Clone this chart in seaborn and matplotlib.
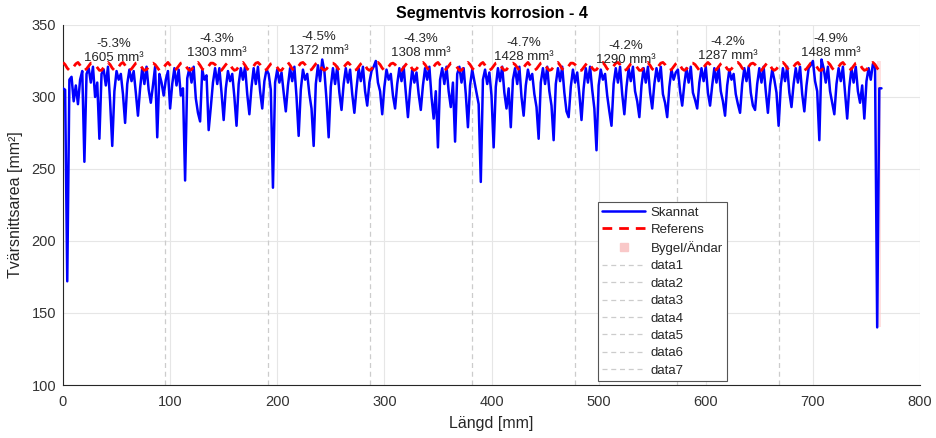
import numpy as np
import matplotlib
matplotlib.use('Agg')
import matplotlib.pyplot as plt
from matplotlib.lines import Line2D
import seaborn as sns

# Skannad tvärsnittsarea [mm²], en punkt varannan mm (0..764 mm)
skannat = [
    306, 305, 172, 312, 314, 297, 308, 295, 312, 318, 255, 316,
    320, 310, 321, 300, 310, 271, 316, 319, 308, 321, 297, 266,
    304, 318, 312, 316, 302, 282, 309, 319, 311, 318, 303, 287,
    306, 320, 309, 321, 305, 296, 308, 321, 272, 316, 310, 301,
    312, 318, 292, 309, 320, 308, 319, 301, 306, 242, 313, 320,
    310, 321, 299, 289, 283, 319, 312, 315, 277, 293, 310, 320,
    309, 320, 303, 284, 306, 318, 311, 316, 300, 280, 309, 320,
    312, 321, 302, 288, 307, 320, 309, 321, 304, 292, 311, 319,
    316, 305, 237, 310, 319, 310, 317, 303, 290, 308, 320, 311,
    321, 300, 273, 305, 319, 312, 316, 302, 292, 266, 309, 322,
    311, 326, 318, 298, 272, 307, 320, 309, 321, 303, 291, 309,
    320, 310, 319, 302, 289, 306, 320, 311, 321, 304, 294, 310,
    318, 321, 325, 310, 304, 288, 307, 319, 312, 316, 301, 292,
    309, 320, 311, 321, 303, 286, 305, 319, 310, 317, 302, 291,
    308, 320, 312, 321, 300, 285, 304, 265, 312, 320, 309, 321,
    304, 293, 310, 269, 316, 321, 310, 320, 302, 279, 308, 319,
    311, 303, 295, 241, 312, 319, 309, 317, 301, 265, 307, 320,
    311, 321, 303, 292, 306, 279, 312, 320, 309, 321, 300, 287,
    308, 319, 312, 316, 302, 293, 271, 310, 320, 309, 321, 304,
    294, 270, 309, 320, 311, 321, 303, 290, 286, 307, 319, 310,
    317, 302, 284, 306, 320, 310, 321, 305, 292, 263, 308, 319,
    312, 316, 301, 290, 280, 309, 320, 310, 321, 302, 288, 307,
    320, 311, 321, 304, 297, 286, 308, 320, 310, 321, 303, 292,
    309, 320, 311, 321, 302, 296, 286, 307, 319, 312, 317, 319,
    304, 294, 309, 320, 310, 321, 303, 298, 292, 310, 320, 311,
    321, 303, 294, 308, 320, 310, 321, 304, 297, 287, 308, 319,
    312, 316, 302, 295, 289, 309, 320, 311, 321, 303, 294, 291,
    309, 320, 310, 321, 304, 289, 308, 319, 312, 303, 280, 307,
    320, 311, 321, 303, 293, 309, 320, 310, 321, 302, 290, 308,
    320, 322, 325, 311, 304, 270, 326, 320, 310, 321, 304, 296,
    288, 309, 320, 311, 321, 303, 285, 307, 320, 310, 321, 304,
    296, 308, 285, 311, 320, 312, 323, 320, 140, 306, 306,
]

# Referensarea [mm²], varannan mm (0..762 mm)
referens = [
    324, 322.5, 320, 318.5, 319, 321, 323,
    324, 322, 319.5, 318.5, 319.5, 321.5, 323.5,
    323.5, 322.5, 320.5, 318.5, 318.5, 320.5, 322.5,
    324, 322.5, 320, 318.5, 319, 321, 323,
    324, 322, 319.5, 318.5, 319.5, 321.5, 323.5,
    324, 322.5, 320, 318.5, 319, 321, 323,
    323.5, 322.5, 320.5, 318.5, 318.5, 320.5, 322.5,
    324, 322, 319.5, 318.5, 319.5, 321.5, 323.5,
    324, 322.5, 320, 318.5, 319, 321, 323,
    324, 322, 319.5, 318.5, 319.5, 321.5, 323.5,
    323.5, 322.5, 320.5, 318.5, 318.5, 320.5, 322.5,
    324, 322.5, 320, 318.5, 319, 321, 323,
    324, 322, 319.5, 318.5, 319.5, 321.5, 323.5,
    324, 322.5, 320, 318.5, 319, 321, 323,
    323.5, 322.5, 320.5, 318.5, 318.5, 320.5, 322.5,
    324, 322, 319.5, 318.5, 319.5, 321.5, 323.5,
    324, 322.5, 320, 318.5, 319, 321, 323,
    324, 322, 319.5, 318.5, 319.5, 321.5, 323.5,
    323.5, 322.5, 320.5, 318.5, 318.5, 320.5, 322.5,
    324, 322.5, 320, 318.5, 319, 321, 323,
    324, 322, 319.5, 318.5, 319.5, 321.5, 323.5,
    324, 322.5, 320, 318.5, 319, 321, 323,
    323.5, 322.5, 320.5, 318.5, 318.5, 320.5, 322.5,
    324, 322, 319.5, 318.5, 319.5, 321.5, 323.5,
    324, 322.5, 320, 318.5, 319, 321, 323,
    324, 322, 319.5, 318.5, 319.5, 321.5, 323.5,
    323.5, 322.5, 320.5, 318.5, 318.5, 320.5, 322.5,
    324, 322.5, 320, 318.5, 319, 321, 323,
    324, 322, 319.5, 318.5, 319.5, 321.5, 323.5,
    324, 322.5, 320, 318.5, 319, 321, 323,
    323.5, 322.5, 320.5, 318.5, 318.5, 320.5, 322.5,
    324, 322, 319.5, 318.5, 319.5, 321.5, 323.5,
    324, 322.5, 320, 318.5, 319, 321, 323,
    324, 322, 319.5, 318.5, 319.5, 321.5, 323.5,
    323.5, 322.5, 320.5, 318.5, 318.5, 320.5, 322.5,
    324, 322.5, 320, 318.5, 319, 321, 323,
    324, 322, 319.5, 318.5, 319.5, 321.5, 323.5,
    324, 322.5, 320, 318.5, 319, 321, 323,
    323.5, 322.5, 320.5, 318.5, 318.5, 320.5, 322.5,
    324, 322, 319.5, 318.5, 319.5, 321.5, 323.5,
    324, 322.5, 320, 318.5, 319, 321, 323,
    324, 322, 319.5, 318.5, 319.5, 321.5, 323.5,
    323.5, 322.5, 320.5, 318.5, 318.5, 320.5, 322.5,
    324, 322.5, 320, 318.5, 319, 321, 323,
    324, 322, 319.5, 318.5, 319.5, 321.5, 323.5,
    324, 322.5, 320, 318.5, 319, 321, 323,
    323.5, 322.5, 320.5, 318.5, 318.5, 320.5, 322.5,
    324, 322, 319.5, 318.5, 319.5, 321.5, 323.5,
    324, 322.5, 320, 318.5, 319, 321, 323,
    324, 322, 319.5, 318.5, 319.5, 321.5, 323.5,
    323.5, 322.5, 320.5, 318.5, 318.5, 320.5, 322.5,
    324, 322.5, 320, 318.5, 319, 321, 323,
    324, 322, 319.5, 318.5, 319.5, 321.5, 323.5,
    324, 322.5, 320, 318.5, 319, 321, 323,
    324, 322.5, 320, 318.5,
]

steg = 2.0  # mm mellan punkterna

# segmentgränser [mm] och resultat per segment
granser = [95.5, 191.0, 286.5, 382.0, 477.5, 573.0, 668.5]
seg_start = [0.0, 95.5, 191.0, 286.5, 382.0, 477.5, 573.0, 668.5]
seg_slut = [95.5, 191.0, 286.5, 382.0, 477.5, 573.0, 668.5, 764.0]
seg_proc = ['-5.3%', '-4.3%', '-4.5%', '-4.3%', '-4.7%', '-4.2%', '-4.2%', '-4.9%']
seg_vol = [1605, 1303, 1372, 1308, 1428, 1290, 1287, 1488]
seg_text_y = [323.1, 326.2, 327.8, 326.6, 323.6, 321.3, 324.3, 326.6]

# bygel/ändar-zoner
bygel_x0 = [0.0, 760.0]
bygel_x1 = [1.0, 764.0]
bygel_y = [140, 325]

sns.set_style("white")
plt.rcParams['font.family'] = ['Liberation Sans', 'DejaVu Sans']
txt = '#262626'

x_skan = steg * np.arange(len(skannat))
x_ref = steg * np.arange(len(referens))

fig = plt.figure(figsize=(9.37, 4.38), dpi=100)
ax = fig.add_axes([0.0672, 0.121, 0.9147, 0.822])

for a, b in zip(bygel_x0, bygel_x1):
    ax.fill_between([a, b], bygel_y[0], bygel_y[1], color='#ffcccc', alpha=0.6, lw=0, zorder=1)

for g in granser:
    ax.axvline(g, color='#cccccc', lw=0.9, ls=(0, (4, 3)), zorder=1.5)

sns.lineplot(x=x_skan, y=skannat, color='#0000ff', lw=1.8, ax=ax, zorder=3)
sns.lineplot(x=x_ref, y=referens, color='#ff0000', lw=2.0, ax=ax, zorder=4)
ax.lines[-1].set_dashes((3.5, 2.5))

for s, e, p, v, ty in zip(seg_start, seg_slut, seg_proc, seg_vol, seg_text_y):
    ax.text((s + e) / 2, ty, f"{p}\n{v} mm³", ha='center', va='bottom',
            fontsize=9.5, color=txt, linespacing=1.2, zorder=5)

ax.set_xlim(0, 800)
ax.set_ylim(100, 350)
ax.set_xticks(range(0, 801, 100))
ax.set_yticks(range(100, 351, 50))
ax.grid(True, color='#e6e6e6', lw=0.8)
ax.set_axisbelow(True)
for sp in ['top', 'right']:
    ax.spines[sp].set_visible(False)
for sp in ['left', 'bottom']:
    ax.spines[sp].set_color(txt)
    ax.spines[sp].set_linewidth(0.8)
ax.tick_params(direction='in', length=4, width=0.8, color=txt, labelcolor='#333333', labelsize=10.5)
ax.tick_params(axis='x', pad=7)
ax.tick_params(axis='y', pad=5)

ax.set_xlabel('Längd [mm]', fontsize=11.5, color=txt, labelpad=5)
ax.set_ylabel('Tvärsnittsarea [mm²]', fontsize=11.5, color=txt, labelpad=6)
ax.set_title('Segmentvis korrosion - 4', fontsize=11.5, fontweight='bold', color='black', pad=5)

handles = [
    Line2D([], [], color='#0000ff', lw=1.8),
    Line2D([], [], color='#ff0000', lw=2.0, dashes=(3.5, 2.5)),
    Line2D([], [], color='#f9c8c8', marker='s', markersize=6, ls=''),
]
labels = ['Skannat', 'Referens', 'Bygel/Ändar']
for i in range(len(granser)):
    handles.append(Line2D([], [], color='#cccccc', lw=0.9, dashes=(4, 3)))
    labels.append(f'data{i + 1}')

leg = ax.legend(handles, labels, loc='lower left', bbox_to_anchor=(0.624, 0.012),
                fontsize=9.5, frameon=True, fancybox=False, framealpha=1,
                edgecolor='#555555', handlelength=3.3, handletextpad=0.4,
                labelspacing=0.39, borderpad=0.3, borderaxespad=0)
leg.get_frame().set_linewidth(0.8)
for t in leg.get_texts():
    t.set_color(txt)

fig.savefig('out.png', dpi=100)
